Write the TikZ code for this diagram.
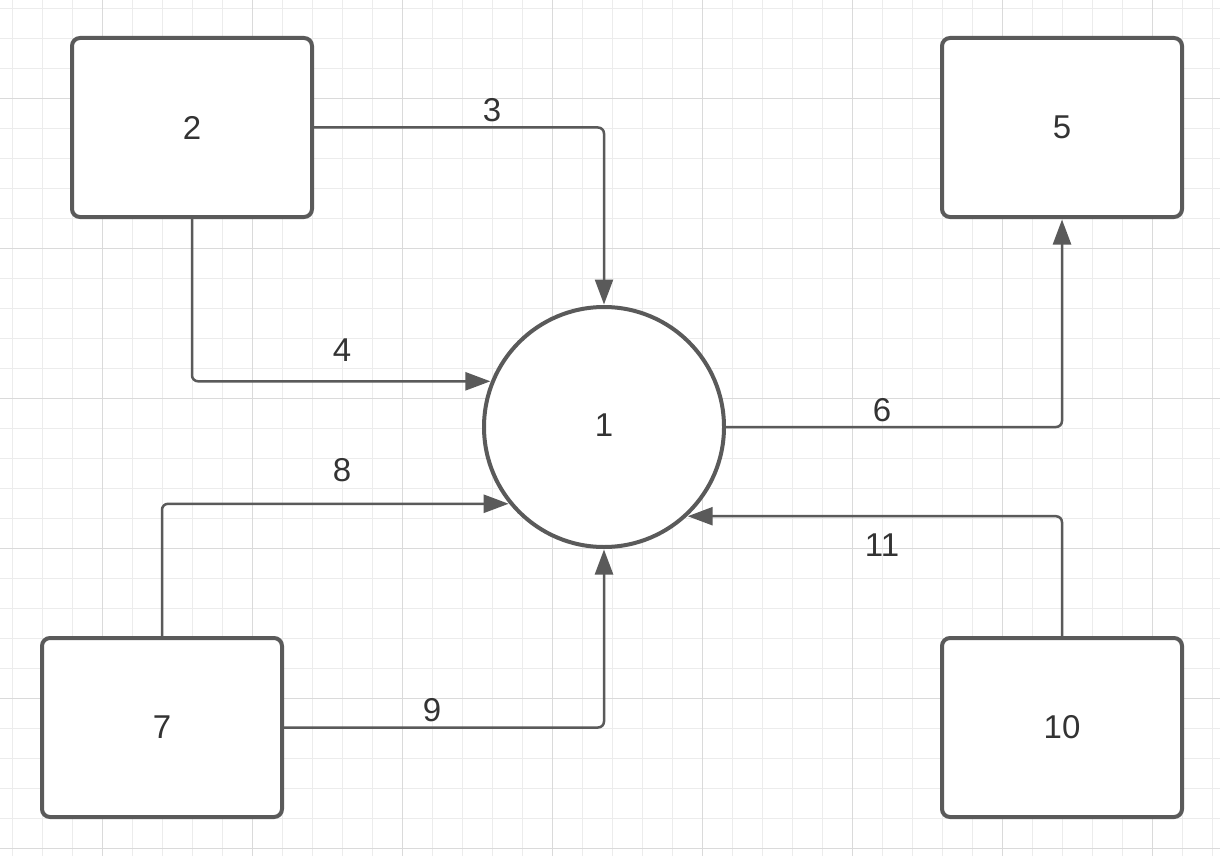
\documentclass[tikz,border=0pt]{standalone}
\usepackage{fontspec}
\setmainfont{Liberation Sans}
\usetikzlibrary{arrows.meta}
\definecolor{ln}{RGB}{90,90,90}
\definecolor{tx}{RGB}{51,51,51}
\definecolor{gmin}{RGB}{236,236,236}
\definecolor{gmaj}{RGB}{218,218,218}
\tikzset{
  box/.style={draw=ln, line width=4pt, rounded corners=8pt, minimum width=240pt, minimum height=179pt, fill=white, inner sep=0pt, font=\fontsize{33}{33}\selectfont, text=tx},
  circ/.style={draw=ln, line width=4pt, circle, minimum size=240pt, fill=white, inner sep=0pt, font=\fontsize{33}{33}\selectfont, text=tx},
  conn/.style={draw=ln, line width=2.5pt, rounded corners=6pt, -{Triangle[length=25pt,width=18pt]}, shorten >=0.5pt},
  lbl/.style={font=\fontsize{33}{33}\selectfont, text=tx, inner sep=0pt}
}
\begin{document}
\begin{tikzpicture}[x=1pt,y=-1pt]
\useasboundingbox (0,0) rectangle (1220,856);
\fill[white] (0,0) rectangle (1220,856);
% grid
\foreach \i in {0,...,40} {\draw[gmin, line width=1pt] ({12.7+30*\i},0) -- ({12.7+30*\i},856);}
\foreach \j in {0,...,28} {\draw[gmin, line width=1pt] (0,{8.3+30*\j}) -- (1220,{8.3+30*\j});}
\foreach \i in {0,...,7} {\draw[gmaj, line width=1pt] ({102.7+150*\i},0) -- ({102.7+150*\i},856);}
\foreach \j in {0,...,5} {\draw[gmaj, line width=1pt] (0,{98.3+150*\j}) -- (1220,{98.3+150*\j});}
% nodes
\node[circ] (c1) at (604,427) {\raisebox{3pt}{1}};
\node[box] (b2) at (192,127.5) {2};
\node[box] (b5) at (1062,127.5) {5};
\node[box] (b7) at (162,727.5) {7};
\node[box] (b10) at (1062,727.5) {10};
% connectors
\draw[conn] (b2.east) -| (c1.north);
\draw[conn] (b2.south) |- (c1.158.86);
\draw[conn] (c1.east) -| (b5.south);
\draw[conn] (b7.north) |- (c1.219.13);
\draw[conn] (b7.east) -| (c1.south);
\draw[conn] (b10.north) |- (c1.313.3);
% labels
\node[lbl] (l3) at (492,110) {3};
\node[lbl] (l4) at (342,350) {4};
\node[lbl] (l6) at (882,410) {6};
\node[lbl] (l8) at (342,470) {8};
\node[lbl] (l9) at (432,710) {9};
\node[lbl] (l11) at (882,545) {11};
\end{tikzpicture}
\end{document}
